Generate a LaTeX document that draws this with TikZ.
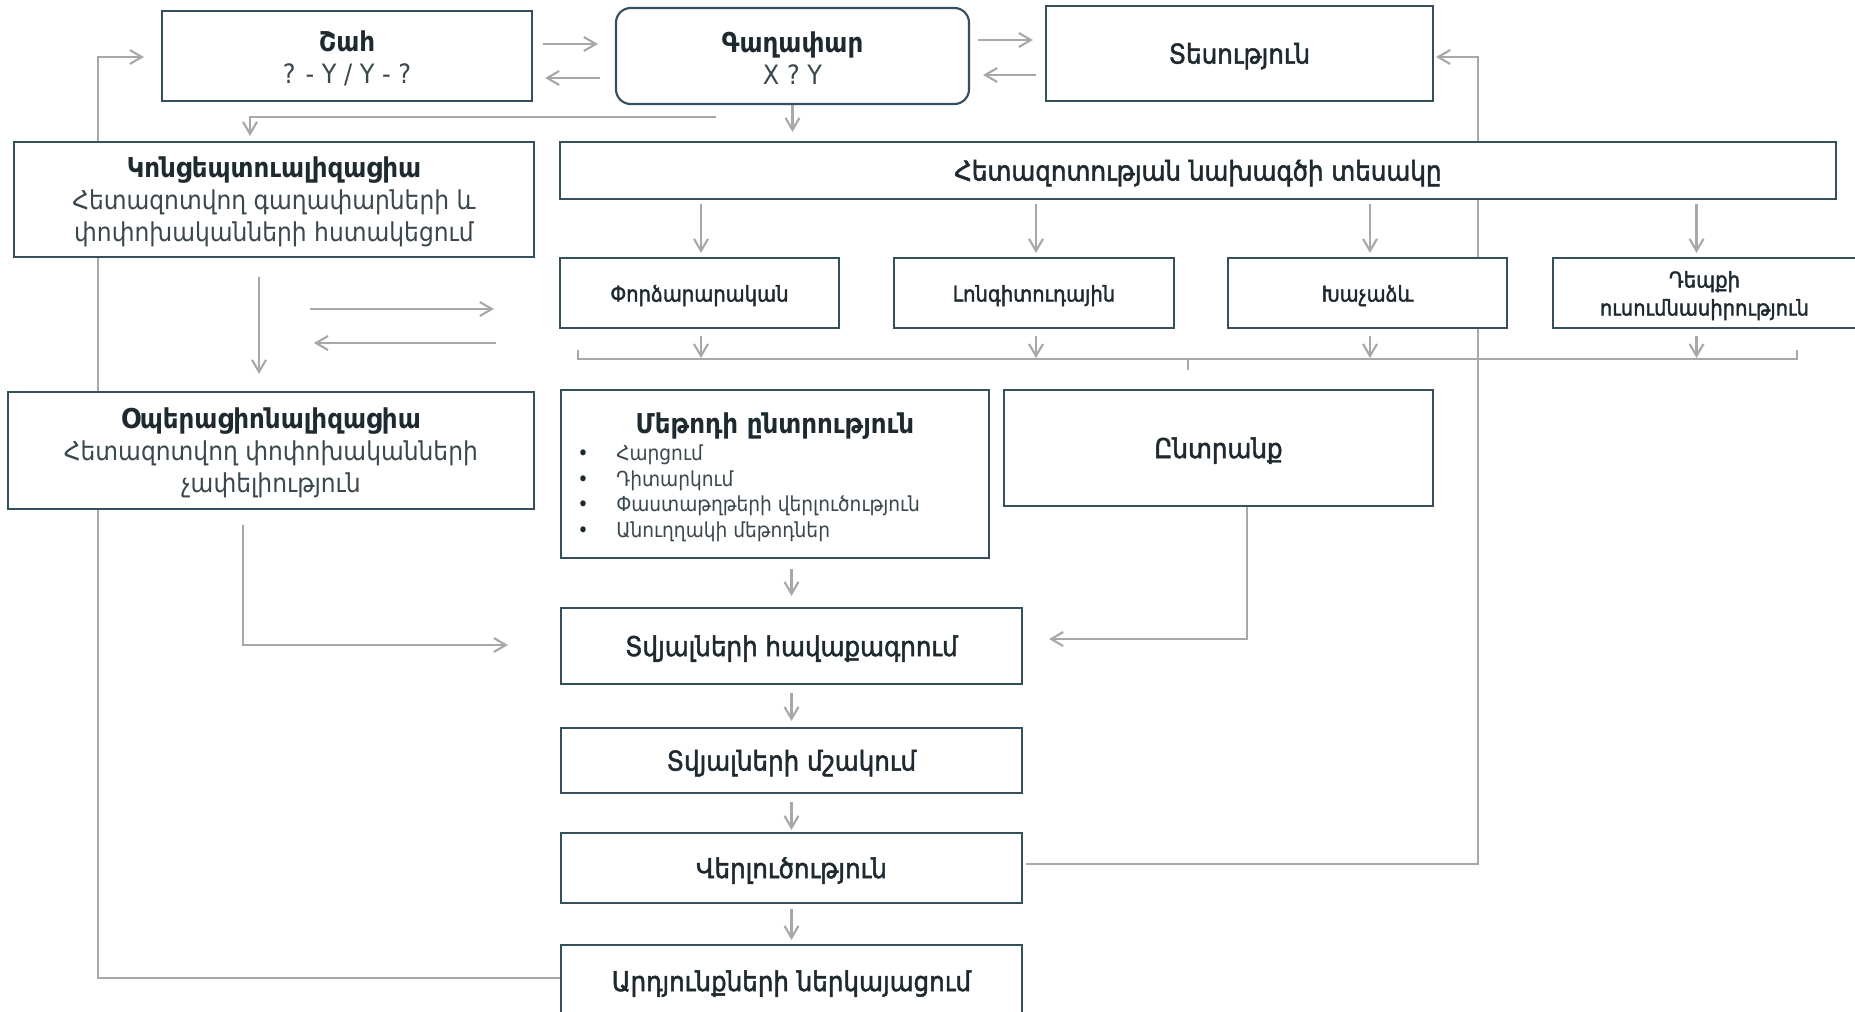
\documentclass[tikz,border=0pt]{standalone}
\usepackage{fontspec}
\setmainfont{DejaVu Sans Condensed}
\newfontfamily\medf[FakeBold=1.8]{DejaVu Sans Condensed}
\usetikzlibrary{arrows.meta,calc,backgrounds}
\definecolor{boxline}{HTML}{34505A}
\definecolor{txt}{HTML}{1E2A30}
\definecolor{lighttxt}{HTML}{3A474D}
\definecolor{conn}{HTML}{A8A8A8}
\newcommand\dn[1]{\raisebox{-1.9pt}[\height][\depth]{#1}}
\begin{document}
\begin{tikzpicture}[x=0.75pt,y=-0.75pt,
  sz/.style 2 args={minimum width=#1*0.75pt,minimum height=#2*0.75pt},
  box/.style={draw=boxline,line width=1.6pt,fill=white,inner sep=0pt,text=txt,align=center,font=\fontsize{20.5}{24}\selectfont},
  small/.style={font=\fontsize{16.3}{21}\selectfont\medf},
  arr/.style={draw=conn,line width=1.6pt,-{Straight Barb[length=9pt,width=10.5pt]}},
  ln/.style={draw=conn,line width=1.5pt},
  lt/.style={text=txt,inner sep=0pt,font=\fontsize{15.5}{18}\selectfont}]
\useasboundingbox (0,0) rectangle (1855,1011);

\node[box,sz={370}{90}] (shah) at (347,56) {\dn{\bfseries Շահ}\\\dn{\color{lighttxt}\fontsize{20}{24}\selectfont ? - Y / Y - ?}};
\node[box,sz={353}{96},rounded corners=11pt] (idea) at (792.5,56) {\dn{\bfseries Գաղափար}\\\dn{\color{lighttxt}\fontsize{20}{24}\selectfont X ? Y}};
\node[box,sz={387}{95}] (theory) at (1239.5,53.5) {\dn{\medf Տեսություն}};
\node[box,sz={520}{115}] (concept) at (274,199.5) {\dn{\bfseries Կոնցեպտուալիզացիա}\\\dn{\color{lighttxt}\fontsize{19.5}{24}\selectfont Հետազոտվող գաղափարների և}\\\dn{\color{lighttxt}\fontsize{19.5}{24}\selectfont փոփոխականների հստակեցում}};
\node[box,sz={1276}{57}] (design) at (1198,170.5) {\dn{\medf Հետազոտության նախագծի տեսակը}};
\node[box,small,sz={279}{70}] (exp) at (699.5,293) {\dn{Փորձարարական}};
\node[box,small,sz={280}{70}] (long) at (1034,293) {\dn{Լոնգիտուդային}};
\node[box,small,sz={279}{70}] (cross) at (1367.5,293) {\dn{Խաչաձև}};
\node[box,small,sz={303}{70}] (case) at (1704.5,293) {\dn{Դեպքի}\\\dn{ուսումնասիրություն}};
\node[box,sz={526}{117}] (oper) at (271,450.5) {\dn{\bfseries Օպերացիոնալիզացիա}\\\dn{\color{lighttxt}\fontsize{19.5}{24}\selectfont Հետազոտվող փոփոխականների}\\\dn{\color{lighttxt}\fontsize{19.5}{24}\selectfont չափելիություն}};
\node[box,sz={428}{168}] (method) at (775,474) {};
\node[lt,font=\fontsize{20.5}{24}\selectfont\bfseries,anchor=base] (mtitle) at (775,433) {Մեթոդի ընտրություն};
\node[lt,anchor=base] (b1) at (583,460) {•};
\node[lt,anchor=base] (b2) at (583,486) {•};
\node[lt,anchor=base] (b3) at (583,511) {•};
\node[lt,anchor=base] (b4) at (583,537) {•};
\node[lt,text=lighttxt,anchor=base west] (m1) at (616,460) {Հարցում};
\node[lt,text=lighttxt,anchor=base west] (m2) at (616,486) {Դիտարկում};
\node[lt,text=lighttxt,anchor=base west] (m3) at (616,511) {Փաստաթղթերի վերլուծություն};
\node[lt,text=lighttxt,anchor=base west] (m4) at (616,537) {Անուղղակի մեթոդներ};
\node[box,sz={429}{116}] (sample) at (1218.5,448) {\dn{\medf Ընտրանք}};
\node[box,sz={461}{76}] (collect) at (791.5,646) {\dn{\medf Տվյալների հավաքագրում}};
\node[box,sz={461}{65}] (process) at (791.5,760.5) {\dn{\medf Տվյալների մշակում}};
\node[box,sz={461}{70}] (analysis) at (791.5,868) {\dn{\medf Վերլուծություն}};
\node[box,sz={461}{72}] (results) at (791.5,981) {\dn{\medf Արդյունքների ներկայացում}};

\begin{scope}[on background layer]
\draw[arr] ([shift={(10,-12)}]shah.east) -- ([shift={(-17,-12)}]idea.west);
\draw[arr] ([shift={(-15,22)}]idea.west) -- ([shift={(12,22)}]shah.east);
\draw[arr] ([shift={(8,-16)}]idea.east) -- ([shift={(-12,-13.5)}]theory.west);
\draw[arr] ([shift={(-9,21.5)}]theory.west) -- ([shift={(13,19)}]idea.east);
\draw[arr] (idea.south) -- ($(idea.south |- design.north)+(0,-9)$);
\draw[arr] ([shift={(-77,12)}]idea.south) -| ([shift={(-24,-5)}]concept.north);
\draw[arr] ([shift={(0,-3)}]results.west) -| ([shift={(-63,1)}]shah.west) -- ([shift={(-17,1)}]shah.west);
\draw[arr] ([shift={(-15,19)}]concept.south) -- ([shift={(-12,-17)}]oper.north);
\draw[arr] ([shift={(-249,16)}]exp.west) -- ([shift={(-65,16)}]exp.west);
\draw[arr] ([shift={(-63,50)}]exp.west) -- ([shift={(-245,50)}]exp.west);
\draw[arr] ([shift={(-28,15)}]oper.south) |- ([shift={(-52,-1)}]collect.west);
\foreach \n/\d in {exp/1.5,long/2,cross/2.5,case/-8}{
  \draw[arr] ($(\n.north |- design.south)+(\d,4)$) -- ($(\n.north)+(\d,-4)$);
  \draw[arr] ($(\n.south)+(\d,7)$) -- ($(\n.south)+(\d,29)$);
}
\draw[ln] ($(exp.south)+(-121.5,21)$) |- ($(case.south)+(92.5,30)$) -- ($(case.south)+(92.5,21)$);
\draw[ln] ($(long.south)+(154,30)$) -- ($(long.south)+(154,41)$);
\draw[arr] ($(method.south -| collect.north)+(0,10)$) -- ($(collect.north)+(0,-11)$);
\draw[arr] ([shift={(28.5,-6)}]sample.south) |- ([shift={(26,-7)}]collect.east);
\draw[arr] ($(collect.south)+(0,8)$) -- ($(process.north)+(0,-6)$);
\draw[arr] ($(process.south)+(0,8)$) -- ($(analysis.north)+(0,-2)$);
\draw[arr] ($(analysis.south)+(0,5)$) -- ($(results.north)+(0,-4)$);
\draw[arr] ([shift={(3,-4)}]analysis.east) -| ([shift={(44,3.5)}]theory.east) -- ([shift={(2,3.5)}]theory.east);
\end{scope}
\end{tikzpicture}
\end{document}
